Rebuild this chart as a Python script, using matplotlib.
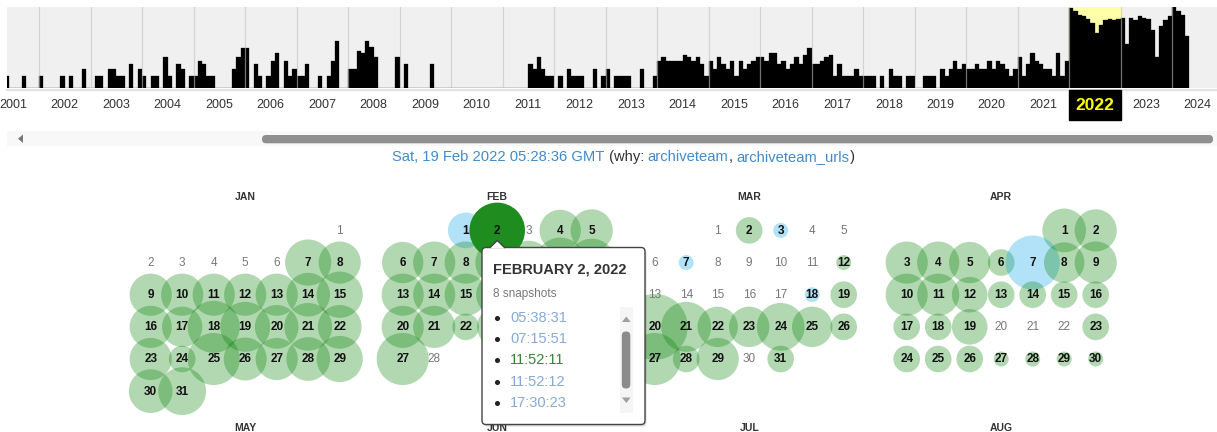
import math
import calendar
import matplotlib
matplotlib.use("Agg")
import matplotlib.pyplot as plt
from matplotlib.patches import Circle, Rectangle, FancyBboxPatch, Polygon
from matplotlib.transforms import blended_transform_factory

plt.rcParams['font.family'] = ['Liberation Sans', 'DejaVu Sans']

# ---- sparkline data: captures per month, one row per year (2024 only Jan-Apr)
years = list(range(2001, 2025))
month_bars = [
    [0, 0, 0, 0, 12, 0, 0, 0, 12, 0, 0, 0],          # 2001
    [12, 0, 0, 0, 0, 12, 0, 12, 0, 0, 19, 0],        # 2002
    [0, 12, 12, 0, 19, 19, 12, 12, 0, 24, 0, 19],    # 2003
    [12, 0, 12, 12, 0, 31, 12, 0, 24, 19, 0, 12],    # 2004
    [12, 27, 24, 12, 12, 0, 0, 0, 0, 19, 31, 40],    # 2005
    [40, 0, 24, 12, 0, 12, 27, 35, 0, 27, 12, 19],   # 2006
    [12, 12, 24, 0, 0, 12, 0, 12, 27, 47, 0, 0],     # 2007
    [19, 19, 37, 35, 47, 41, 31, 0, 0, 0, 0, 31],    # 2008
    [0, 24, 0, 0, 0, 0, 0, 24, 0, 0, 0, 0],          # 2009
    [0, 0, 0, 0, 0, 0, 0, 0, 0, 0, 0, 0],            # 2010
    [0, 0, 0, 0, 0, 0, 24, 19, 31, 19, 12, 12],      # 2011
    [0, 12, 0, 19, 12, 12, 12, 0, 0, 19, 0, 12],     # 2012
    [19, 0, 12, 12, 12, 12, 0, 0, 19, 0, 0, 12],     # 2013
    [27, 31, 27, 27, 27, 27, 33, 31, 27, 31, 24, 12],  # 2014
    [27, 19, 31, 24, 19, 27, 12, 27, 19, 24, 27, 31],  # 2015
    [31, 27, 35, 35, 24, 27, 19, 24, 31, 24, 33, 40],  # 2016
    [24, 24, 27, 31, 33, 12, 24, 12, 12, 12, 19, 12],  # 2017
    [12, 12, 12, 0, 12, 0, 19, 12, 12, 0, 12, 12],     # 2018
    [0, 0, 12, 12, 12, 0, 19, 12, 19, 27, 19, 24],     # 2019
    [19, 19, 24, 19, 19, 27, 19, 27, 24, 19, 12, 19],  # 2020
    [31, 12, 24, 35, 27, 24, 19, 19, 12, 35, 12, 27],  # 2021
    [80, 77, 73, 72, 69, 65, 55, 63, 68, 69, 68, 69],  # 2022
    [70, 44, 70, 68, 72, 70, 69, 58, 31, 62, 68, 72],  # 2023
    [81, 77, 73, 52],                                  # 2024
]
selected_year = 2022

# ---- calendar data (2022): snapshots per day
month_names = ["JAN", "FEB", "MAR", "APR"]
next_month_names = ["MAY", "JUN", "JUL", "AUG"]
jan_counts = [0, 0, 0, 0, 0, 0, 19, 13, 13, 13, 13, 13, 13, 15, 19, 13, 11, 33, 27, 15,
              22, 15, 13, 3, 33, 14, 13, 15, 19, 15, 22]
feb_counts = [7, 8, 0, 12, 13, 12, 13, 13, 15, 15, 27, 22, 13, 13, 13, 13, 15, 13, 19, 13,
              13, 3, 11, 13, 7, 13, 33, 0]
mar_counts = [0, 3, 1, 0, 0, 0, 1, 0, 0, 0, 0, 1, 0, 0, 0, 0, 0, 1, 3, 123,
              27, 11, 11, 22, 11, 3, 33, 3, 13, 0, 3]
apr_counts = [15, 13, 13, 13, 12, 3, 40, 11, 13, 13, 13, 7, 3, 3, 3, 3, 3, 3, 7, 0,
              0, 0, 3, 3, 3, 3, 1, 1, 1, 1]
month_counts = [jan_counts, feb_counts, mar_counts, apr_counts]
# days whose snapshots are redirects (blue)
redirect_days = [[], [1], [3, 7, 18], [7]]
selected_day = (2, 2)   # Feb 2

# ---- tooltip
tip_title = "FEBRUARY 2, 2022"
tip_count = "8 snapshots"
tip_times = ["05:38:31", "07:15:51", "11:52:11", "11:52:12", "17:30:23"]
tip_kinds = ["redirect", "redirect", "ok", "redirect", "redirect"]

date_line = [("Sat, 19 Feb 2022 05:28:36 GMT", "link"), (" (why: ", "plain"),
             ("archiveteam", "link"), (", ", "plain"),
             ("archiveteam_urls", "link"), (")", "plain")]

LINK = "#428bca"
TEXT = "#333333"
GREEN = "#008000"
BLUE = "#00a0e6"


def snap_radius(n):
    return 7.5 + 5.3 * math.log(n)


W, H = 1217, 432
fig = plt.figure(figsize=(W / 100, H / 100), dpi=100)
ax = fig.add_axes([0, 0, 1, 1])
ax.set_xlim(0, W)
ax.set_ylim(H, 0)
ax.axis("off")

# ---- sparkline
sp_left, sp_right, sp_top, sp_base = 7, W, 7, 88.3
year_px, year0_px = 51.5, 39.0   # 2002 starts at x=39
ax_s = fig.add_axes([sp_left / W, (H - sp_base) / H, (sp_right - sp_left) / W,
                     (sp_base - sp_top) / H])
ax_s.set_xlim(2002 + (sp_left - year0_px) / year_px, 2002 + (sp_right - year0_px) / year_px)
ax_s.set_ylim(0, sp_base - sp_top)
ax_s.set_facecolor("#f0f0f0")
for s in ax_s.spines.values():
    s.set_visible(False)
ax_s.set_xticks([])
ax_s.set_yticks([])
ax_s.axvspan(selected_year, selected_year + 1, color="#ffffa8", zorder=0)
for yr, row in zip(years, month_bars):
    xs = [yr + m / 12 for m in range(len(row))]
    ax_s.bar(xs, row, width=1 / 12, align="edge", color="black", edgecolor="black",
             linewidth=0.2, zorder=1)
for yr in years + [2025]:
    ax_s.axvline(yr, color="#c0c0c0", alpha=0.6, lw=0.9, zorder=2)
ax.plot([sp_left, W], [89.6, 89.6], color="#e2e2e2", lw=1.6)

bt = blended_transform_factory(ax_s.transData, ax.transData)
for yr in years:
    if yr == selected_year:
        ax.add_patch(Rectangle((yr, 90), 1, 30, transform=bt, color="black", zorder=2))
        ax.text(yr + 0.5, 105.5, str(yr), transform=bt, ha="center", va="center",
                fontsize=12.5, fontweight="bold", color="#ffff00", zorder=3)
    else:
        ax.text(yr + 0.5, 104.5, str(yr), transform=bt, ha="center", va="center",
                fontsize=9, color=TEXT)

# ---- scrollbar
ax.add_patch(Rectangle((sp_left, 131), W - sp_left, 15, color="#f8f8f8", lw=0))
ax.add_patch(Polygon([(18, 138.7), (23, 134.5), (23, 143)], closed=True, color="#777777", lw=0))
ax.add_patch(FancyBboxPatch((262, 135), 951, 8.3, boxstyle="round,pad=0,rounding_size=4",
                            color="#8f8f8f", lw=0))

# ---- date line, centred, coloured pieces
renderer = fig.canvas.get_renderer()


def text_width(s, size):
    t = ax.text(0, 0, s + "|", fontsize=size)
    t2 = ax.text(0, 0, "|", fontsize=size)
    w = t.get_window_extent(renderer).width - t2.get_window_extent(renderer).width
    t.remove()
    t2.remove()
    return w


date_size = 10.6
full = "".join(p for p, _ in date_line)
x_start = 623.5 - text_width(full, date_size) / 2
prefix = ""
for piece, kind in date_line:
    ax.text(x_start + (text_width(prefix, date_size) if prefix else 0), 157, piece,
            fontsize=date_size, color=LINK if kind == "link" else TEXT, ha="left", va="center")
    prefix += piece

# ---- tooltip box (also used to leave out day numbers that it hides)
tx, ty, tw, th = 482, 247.5, 163, 177


def hidden_by_tip(x, y):
    return tx - 4 < x < tx + tw + 4 and ty - 2 < y < ty + th


# ---- calendar
col0, col_dx, month_dx = 150.7, 31.5, 252.0
row0, row_dy = 230.4, 32.15
for mi, (name, counts) in enumerate(zip(month_names, month_counts)):
    x0 = col0 + mi * month_dx
    ax.text(x0 + 3 * col_dx, 197.5, name, ha="center", va="center", fontsize=7.5,
            fontweight="bold", color=TEXT)
    first_wd, ndays = calendar.monthrange(2022, mi + 1)
    start = (first_wd + 1) % 7   # Sunday-first columns
    for d in range(1, ndays + 1):
        pos = start + d - 1
        x = x0 + (pos % 7) * col_dx
        y = row0 + (pos // 7) * row_dy
        n = counts[d - 1]
        if n > 0:
            r = snap_radius(n)
            if (mi + 1, d) == selected_day:
                ax.add_patch(Circle((x, y), r * 1.5, color="#1f8c1f", lw=0, zorder=2.5))
            else:
                c = BLUE if d in redirect_days[mi] else GREEN
                ax.add_patch(Circle((x, y), r, facecolor=c, alpha=0.3, lw=0, zorder=2))
        if hidden_by_tip(x, y):
            continue
        if n > 0:
            ax.text(x, y + 0.5, str(d), ha="center", va="center", fontsize=8.5,
                    fontweight="bold", color="#111111", zorder=3)
        else:
            ax.text(x, y + 0.5, str(d), ha="center", va="center", fontsize=8.5,
                    color="#777777", zorder=3)

for mi, name in enumerate(next_month_names):
    ax.text(col0 + mi * month_dx + 3 * col_dx, 428, name, ha="center", va="center",
            fontsize=7.5, fontweight="bold", color=TEXT)

# ---- tooltip
ax.add_patch(FancyBboxPatch((tx + 1.5, ty + 2), tw, th, boxstyle="round,pad=0,rounding_size=4",
                            facecolor="black", alpha=0.15, lw=0, zorder=5))
ax.add_patch(FancyBboxPatch((tx, ty), tw, th, boxstyle="round,pad=0,rounding_size=4",
                            facecolor="white", edgecolor="#444444", lw=1, zorder=6))
ax.add_patch(Polygon([(490, ty + 0.8), (497.3, 240.5), (504.6, ty + 0.8)], closed=True,
                     facecolor="white", edgecolor="none", zorder=7))
ax.plot([490, 497.3, 504.6], [ty, 240.5, ty], color="#444444", lw=1, zorder=7)

ax.text(493, 269.5, tip_title, fontsize=10.5, fontweight="bold", color=TEXT,
        ha="left", va="center", zorder=8)
ax.text(493, 293.5, tip_count, fontsize=8.5, color="#777777", ha="left", va="center", zorder=8)
time_colors = {"redirect": "#86aad4", "ok": "#338833"}
for i, (tm, kind) in enumerate(zip(tip_times, tip_kinds)):
    y = 317.5 + i * 21.4
    ax.plot(497, y, "o", ms=2.6, color="#222222", zorder=8)
    ax.text(510, y, tm, fontsize=10.5, color=time_colors[kind], ha="left", va="center", zorder=8)

# tooltip scroll track
ax.add_patch(Rectangle((620, 307), 13, 106, color="#f5f5f5", lw=0, zorder=7))
ax.add_patch(Polygon([(622, 322), (626.3, 316.5), (630.6, 322)], closed=True,
                     color="#a0a0a0", lw=0, zorder=8))
ax.add_patch(Polygon([(622, 397.5), (626.3, 403), (630.6, 397.5)], closed=True,
                     color="#a0a0a0", lw=0, zorder=8))
ax.add_patch(FancyBboxPatch((621.8, 331.5), 8.5, 57, boxstyle="round,pad=0,rounding_size=4",
                            color="#8c8c8c", lw=0, zorder=8))

fig.savefig("out.png", dpi=100)
